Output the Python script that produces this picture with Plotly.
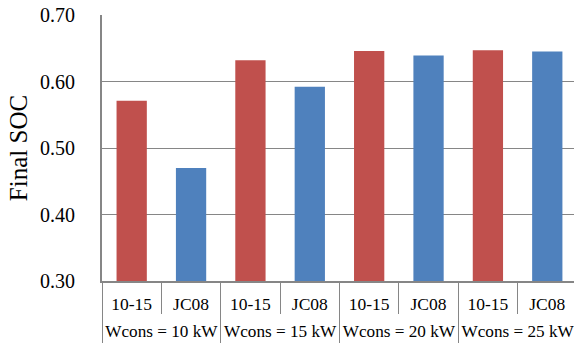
import plotly.graph_objects as go

groups = ["Wcons = 10 kW", "Wcons = 15 kW", "Wcons = 20 kW", "Wcons = 25 kW"]
cycles = ["10-15", "JC08"]
soc_1015 = [0.571, 0.632, 0.646, 0.647]
soc_jc08 = [0.470, 0.592, 0.639, 0.645]
y_ticks = [0.30, 0.40, 0.50, 0.60, 0.70]

RED = "#C0504D"
BLUE = "#4F81BD"
GRAY = "#868686"
FONT = "Liberation Serif"

n_c = len(cycles)
n_slots = len(groups) * n_c
x_1015 = [g * n_c + 0 for g in range(len(groups))]
x_jc08 = [g * n_c + 1 for g in range(len(groups))]
slot_labels = [c for _ in groups for c in cycles]
group_centers = [g * n_c + (n_c - 1) / 2 for g in range(len(groups))]
inner_bounds = [i - 0.5 for i in range(1, n_slots) if i % n_c != 0]
outer_bounds = [g * n_c - 0.5 for g in range(len(groups) + 1)]

fig = go.Figure()
fig.add_trace(go.Bar(x=x_1015, y=soc_1015, marker=dict(color=RED, line=dict(width=0)),
                     width=0.51, name=cycles[0]))
fig.add_trace(go.Bar(x=x_jc08, y=soc_jc08, marker=dict(color=BLUE, line=dict(width=0)),
                     width=0.51, name=cycles[1]))
# invisible trace to activate the second (group label) x axis
fig.add_trace(go.Scatter(x=[group_centers[0]], y=[y_ticks[0]], xaxis="x2", mode="markers",
                         marker=dict(opacity=0), hoverinfo="skip", showlegend=False))

xr = [-0.5, n_slots - 0.55]
fig.update_layout(
    width=574, height=343,
    margin=dict(l=102, r=0, t=15, b=62),
    barmode="overlay",
    showlegend=False,
    plot_bgcolor="white", paper_bgcolor="white",
    font=dict(family=FONT, color="black"),
    xaxis=dict(
        range=xr, automargin=False,
        tickvals=list(range(n_slots)), ticktext=slot_labels,
        ticks="", ticklabelstandoff=6, ticklabeloverflow="allow",
        tickfont=dict(family=FONT, size=17.5, color="black"),
        showline=True, linecolor=GRAY, linewidth=2,
        showgrid=False, zeroline=False,
        minor=dict(tickvals=inner_bounds, ticks="outside", ticklen=31,
                   tickcolor=GRAY, tickwidth=1, showgrid=False),
    ),
    xaxis2=dict(
        range=xr, overlaying="x", side="bottom", anchor="y", automargin=False,
        tickvals=group_centers, ticktext=groups,
        ticks="", ticklabelstandoff=38, ticklabeloverflow="allow",
        tickfont=dict(family=FONT, size=17.2, color="black"),
        showline=False, showgrid=False, zeroline=False,
        minor=dict(tickvals=outer_bounds, ticks="outside", ticklen=62,
                   tickcolor=GRAY, tickwidth=1, showgrid=False),
    ),
    yaxis=dict(
        range=[0.30, 0.70], tickvals=y_ticks, tickformat=".2f", automargin=False,
        showline=True, linecolor=GRAY, linewidth=2,
        showgrid=True, gridcolor=GRAY, gridwidth=1,
        tickfont=dict(family=FONT, size=20, color="black"),
        ticks="", ticklabelstandoff=21,
        title=dict(text="Final SOC", font=dict(family=FONT, size=25, color="black"), standoff=5),
        zeroline=False,
    ),
)

fig.write_html("out.html", config={"displayModeBar": False},
               post_script="document.body.style.margin='0';")
